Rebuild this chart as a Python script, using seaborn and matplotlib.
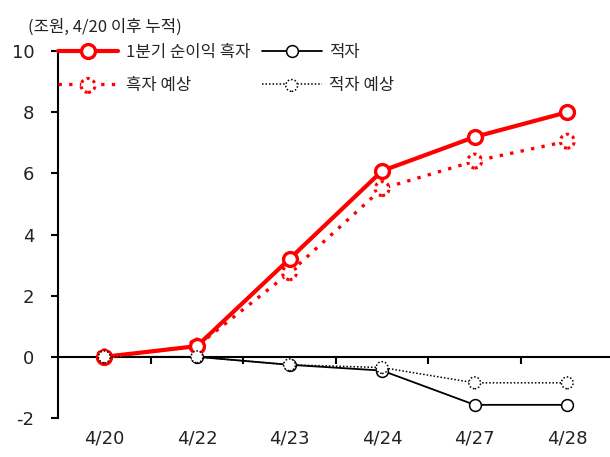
import matplotlib
matplotlib.use("Agg")
import matplotlib.pyplot as plt
import seaborn as sns
import numpy as np
import pandas as pd
from matplotlib.lines import Line2D
from matplotlib.legend_handler import HandlerTuple

### values
DATES = ["4/20", "4/22", "4/23", "4/24", "4/27", "4/28"]
PROFIT = [0.0, 0.35, 3.2, 6.08, 7.19, 8.0]          # 1분기 순이익 흑자
PROFIT_EST = [0.0, 0.35, 2.75, 5.5, 6.4, 7.05]      # 흑자 예상
LOSS = [0.0, 0.0, -0.26, -0.45, -1.57, -1.57]       # 적자
LOSS_EST = [0.0, 0.0, -0.26, -0.35, -0.85, -0.85]   # 적자 예상
Y_TICKS = [-2, 0, 2, 4, 6, 8, 10]

sns.set_theme(style="white")
plt.rcParams['font.family'] = ['Noto Sans CJK KR', 'DejaVu Sans']

df = pd.DataFrame({"x": np.arange(len(DATES)), "profit": PROFIT,
                   "profit_est": PROFIT_EST, "loss": LOSS, "loss_est": LOSS_EST})

fig = plt.figure(figsize=(6.1, 4.57), dpi=100)
ax = fig.add_axes([58 / 610, 1 - 418 / 457, 555.6 / 610, 367 / 457])

RED = "#FF0000"
TXT = "#222222"

### solid series
sns.lineplot(data=df, x="x", y="loss", ax=ax, color="black", lw=1.3,
             marker="o", markersize=8.5, markerfacecolor="white",
             markeredgecolor="black", markeredgewidth=1.1, zorder=3)
sns.lineplot(data=df, x="x", y="profit", ax=ax, color=RED, lw=3,
             marker="o", markersize=10, markerfacecolor="white",
             markeredgecolor=RED, markeredgewidth=2.4, zorder=5)

### dotted series: line + scatter with dotted marker edge
sns.lineplot(data=df, x="x", y="profit_est", ax=ax, color=RED, lw=2.4,
             linestyle=(0, (1, 2.2)), zorder=4)
sc_pe = ax.scatter(df["x"], df["profit_est"], s=100, facecolor="white",
                   edgecolor=RED, linewidths=2.2, linestyle=(0, (1, 1.2)), zorder=4.5)
sns.lineplot(data=df, x="x", y="loss_est", ax=ax, color="black", lw=1.1,
             linestyle=(0, (1, 1.3)), zorder=6)
sc_le = ax.scatter(df["x"], df["loss_est"], s=72, facecolor="white",
                   edgecolor="black", linewidths=1.1, linestyle=(0, (1, 1.3)), zorder=6.5)

### spines first (moving the spine resets the tick objects)
for side in ["top", "right"]:
    ax.spines[side].set_visible(False)
ax.spines["left"].set_color("black")
ax.spines["left"].set_linewidth(1.5)
ax.spines["bottom"].set_position(("data", 0))
ax.spines["bottom"].set_color("black")
ax.spines["bottom"].set_linewidth(1.5)

ax.set_xlim(-0.5, 5.5)
ax.set_ylim(-2, 10)
ax.set_yticks(Y_TICKS)
ax.set_yticklabels([str(t) for t in Y_TICKS])
ax.set_xticks(range(len(DATES)))
ax.set_xticklabels(DATES)
ax.set_xticks(np.arange(0.5, 5.5, 1.0), minor=True)
ax.set_xlabel("")
ax.set_ylabel("")

ax.tick_params(axis="both", labelsize=13, labelcolor=TXT,
               labelfontfamily="DejaVu Sans")
ax.tick_params(axis="y", direction="out", length=5, width=1.5, color="black",
               left=True, pad=12)
ax.tick_params(axis="x", which="major", length=0, pad=52)
ax.tick_params(axis="x", which="minor", direction="out", length=5, width=1.5,
               color="black", bottom=True)

### legend
h1 = Line2D([], [], color=RED, lw=3, marker="o", markersize=10,
            markerfacecolor="white", markeredgecolor=RED, markeredgewidth=2.4)
h2 = Line2D([], [], color="black", lw=1.3, marker="o", markersize=8.5,
            markerfacecolor="white", markeredgecolor="black", markeredgewidth=1.1)
h3 = (Line2D([], [], color=RED, lw=2.4, linestyle=(0, (1, 2.2))), sc_pe)
h4 = (Line2D([], [], color="black", lw=1.1, linestyle=(0, (1, 1.3))), sc_le)
fig.legend([h1, h3, h2, h4], ["1분기 순이익 흑자", "흑자 예상", "적자", "적자 예상"],
           handler_map={tuple: HandlerTuple(ndivide=1, pad=0)},
           ncol=2, frameon=False, fontsize=12, scatterpoints=1,
           handlelength=3.6, columnspacing=0.7, labelspacing=0.95,
           handletextpad=0.45, loc="upper left", bbox_to_anchor=(43 / 610, 1 - 29 / 457))

fig.text(28 / 610, 1 - 27 / 457, "(조원, 4/20 이후 누적)", fontsize=12,
         color=TXT, va="center", ha="left")

fig.savefig("out.png", dpi=100)
